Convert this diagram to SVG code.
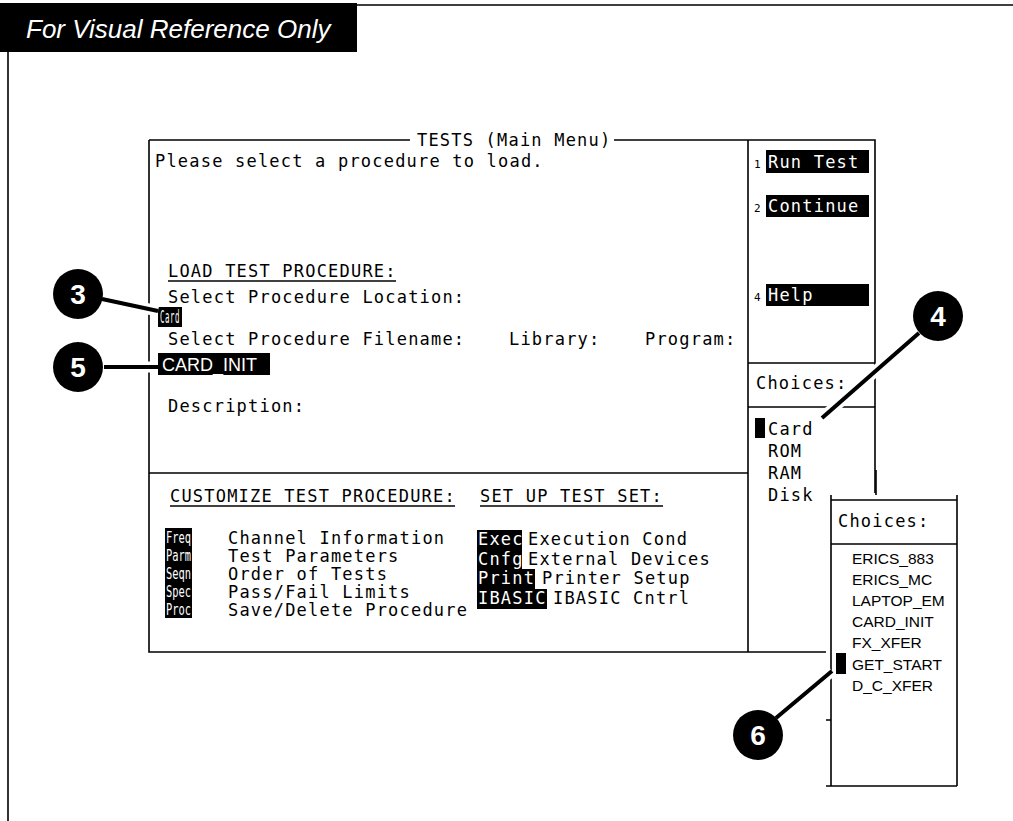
<svg xmlns="http://www.w3.org/2000/svg" width="1013" height="821" viewBox="0 0 1013 821">
<style>
.scr{font-family:"DejaVu Sans Mono","Liberation Mono",monospace;font-size:17px;letter-spacing:1.2px;fill:#000}
.inv{fill:#fff}
.cmp{font-size:16px;letter-spacing:0}
.ar{font-family:"Liberation Sans",Arial,sans-serif;letter-spacing:0}
.ln{stroke:#000;stroke-width:1.6;fill:none}
.hl{fill:#000}
.num{font-family:"Liberation Sans",Arial,sans-serif;font-size:28px;font-weight:bold;fill:#fff;text-anchor:middle}
.halo{stroke:#fff;stroke-width:11;fill:none}
.lead{stroke:#000;stroke-width:4;fill:none}
.sk{font-family:"DejaVu Sans Mono",monospace;font-size:11px;fill:#000}
</style>
<rect width="1013" height="821" fill="#fff"/>
<g id="banner">
<rect x="0" y="3" width="357" height="49" fill="#000"/>
<text x="26" y="38" font-family="Liberation Sans,Arial,sans-serif" font-size="26" font-style="italic" fill="#fff">For Visual Reference Only</text>
<path class="ln" d="M357 5H1013M8 52V821"/>
</g>
<g id="screen">
<path class="ln" stroke-width="2" d="M149 140V652H826M149 140H410M614 140H875V493M748 140V652M149 473H748M748 363H875M748 407H875"/>
<text class="scr" x="417" y="146">TESTS (Main Menu)</text>
<text class="scr" x="155" y="167">Please select a procedure to load.</text>
<text class="scr" x="168" y="277">LOAD TEST PROCEDURE:</text>
<path class="ln" d="M168 281H396"/>
<text class="scr" x="168" y="303">Select Procedure Location:</text>
<rect class="hl" x="158" y="307" width="24" height="20"/>
<text class="scr inv" x="160" y="323" font-size="17" letter-spacing="0" textLength="20" lengthAdjust="spacingAndGlyphs">Card</text>
<text class="scr" x="168" y="345">Select Procedure Filename:</text>
<text class="scr" x="509" y="345">Library:</text>
<text class="scr" x="645" y="345">Program:</text>
<rect class="hl" x="158" y="353" width="112" height="22"/>
<text class="ar inv" x="162" y="371" font-size="18">CARD_INIT</text>
<text class="scr" x="168" y="412">Description:</text>
<text class="scr" x="170" y="502">CUSTOMIZE TEST PROCEDURE:</text>
<path class="ln" d="M170 506H455"/>
<text class="scr" x="480" y="502">SET UP TEST SET:</text>
<path class="ln" d="M480 506H663"/>
</g>
<g id="customize-list">
<rect class="hl" x="165" y="528" width="27" height="90"/>
<g class="scr inv cmp">
<text x="166" y="543" textLength="25" lengthAdjust="spacingAndGlyphs">Freq</text>
<text x="166" y="561" textLength="25" lengthAdjust="spacingAndGlyphs">Parm</text>
<text x="166" y="579" textLength="25" lengthAdjust="spacingAndGlyphs">Seqn</text>
<text x="166" y="597" textLength="25" lengthAdjust="spacingAndGlyphs">Spec</text>
<text x="166" y="615" textLength="25" lengthAdjust="spacingAndGlyphs">Proc</text>
</g>
<text class="scr" x="228" y="544">Channel Information</text>
<text class="scr" x="228" y="562">Test Parameters</text>
<text class="scr" x="228" y="580">Order of Tests</text>
<text class="scr" x="228" y="598">Pass/Fail Limits</text>
<text class="scr" x="228" y="616">Save/Delete Procedure</text>
</g>
<g id="setup-list">
<rect class="hl" x="477" y="530" width="45" height="39"/>
<rect class="hl" x="477" y="569" width="58" height="20"/>
<rect class="hl" x="477" y="589" width="70" height="20"/>
<text class="scr inv" x="478" y="545">Exec</text>
<text class="scr inv" x="478" y="565">Cnfg</text>
<text class="scr inv" x="478" y="584">Print</text>
<text class="scr inv" x="478" y="604">IBASIC</text>
<text class="scr" x="528" y="545">Execution Cond</text>
<text class="scr" x="528" y="565">External Devices</text>
<text class="scr" x="542" y="584">Printer Setup</text>
<text class="scr" x="553" y="604">IBASIC Cntrl</text>
</g>
<g id="softkeys">
<text class="sk" x="754" y="168">1</text>
<rect class="hl" x="766" y="150" width="103" height="23"/>
<text class="scr inv" x="768" y="168">Run Test</text>
<text class="sk" x="754" y="212">2</text>
<rect class="hl" x="766" y="195" width="103" height="22"/>
<text class="scr inv" x="768" y="212">Continue</text>
<text class="sk" x="754" y="301">4</text>
<rect class="hl" x="766" y="284" width="103" height="22"/>
<text class="scr inv" x="768" y="301">Help</text>
</g>
<g id="choices">
<text class="scr" x="756" y="389">Choices:</text>
<rect class="hl" x="755" y="418" width="10" height="20"/>
<text class="scr" x="768" y="435">Card</text>
<text class="scr" x="768" y="457">ROM</text>
<text class="scr" x="768" y="479">RAM</text>
<text class="scr" x="768" y="501">Disk</text>
</g>
<g id="popup">
<path class="ln" d="M831 495V786M957 495V786M831 500H957M826 786H957M826 720H831M831 544H957M876 470V495"/>
<text class="scr" x="838" y="527">Choices:</text>
<g class="ar" font-size="15.5">
<text x="852" y="564">ERICS_883</text>
<text x="852" y="585">ERICS_MC</text>
<text x="852" y="606">LAPTOP_EM</text>
<text x="852" y="627">CARD_INIT</text>
<text x="852" y="648">FX_XFER</text>
<text x="852" y="670">GET_START</text>
<text x="852" y="691">D_C_XFER</text>
</g>
<rect class="hl" x="836" y="653" width="10" height="21"/>
</g>
<g id="connectors">
<path class="halo" d="M102 299L158 311M104 367H158M919 333L822 418M776 718L832 671"/>
<path class="lead" d="M102 299L158 311M104 367H158M919 333L822 418M776 718L832 671"/>
</g>
<g id="callout-3"><circle cx="78" cy="294" r="25" fill="#000"/><text class="num" x="78" y="304">3</text></g>
<g id="callout-5"><circle cx="78" cy="367" r="25" fill="#000"/><text class="num" x="78" y="377">5</text></g>
<g id="callout-4"><circle cx="938" cy="316" r="25" fill="#000"/><text class="num" x="938" y="326">4</text></g>
<g id="callout-6"><circle cx="758" cy="735" r="25" fill="#000"/><text class="num" x="758" y="745">6</text></g>
</svg>
